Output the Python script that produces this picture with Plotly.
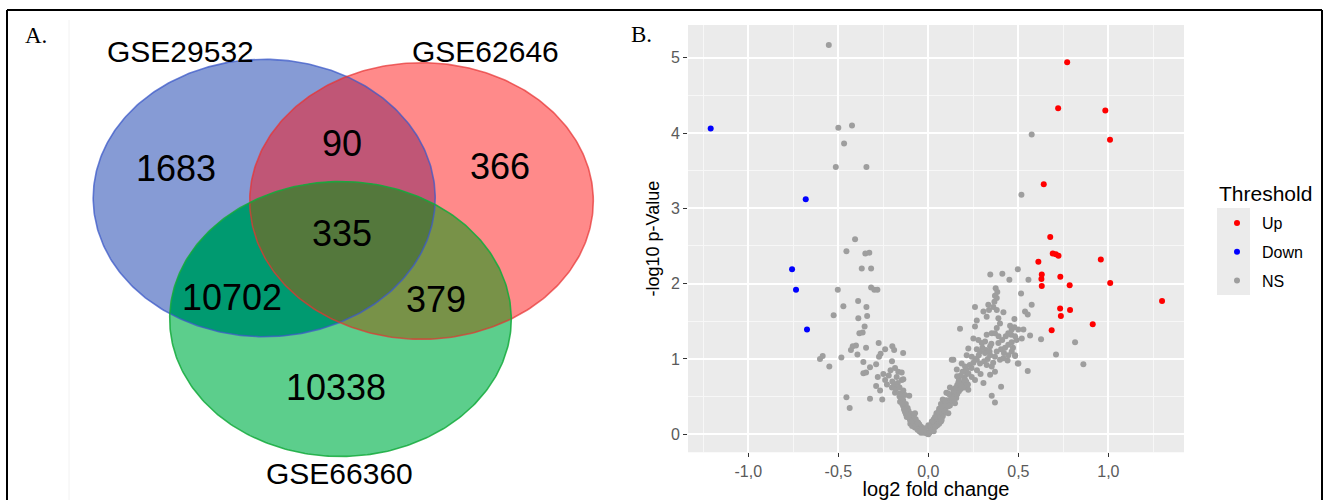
import plotly.graph_objects as go
import math

W, H = 1326, 500

# ---------------- data ----------------
venn_sets = ["GSE29532", "GSE62646", "GSE66360"]
venn_regions = ["A", "B", "C", "AB", "AC", "BC", "ABC"]
venn_counts = [1683, 366, 10338, 90, 10702, 379, 335]

up_points = [
    (0.771, 4.94), (0.721, 4.33), (0.983, 4.30), (1.009, 3.91), (0.641, 3.32),
    (0.677, 2.62), (0.691, 2.40), (0.708, 2.39), (0.723, 2.37), (0.611, 2.29),
    (0.958, 2.32), (0.630, 2.12), (0.628, 2.06), (0.630, 1.97), (0.733, 2.09),
    (0.785, 1.98), (1.010, 2.01), (1.298, 1.77), (0.732, 1.67), (0.787, 1.65),
    (0.736, 1.57), (0.913, 1.46), (0.685, 1.38),
]
down_points = [
    (-1.209, 4.06), (-0.681, 3.12), (-0.757, 2.19), (-0.735, 1.92), (-0.674, 1.39),
]
ns_points = [
    (-0.553, 5.17), (-0.500, 4.07), (-0.424, 4.10), (-0.468, 3.86), (-0.514, 3.55),
    (-0.344, 3.55), (-0.407, 2.59), (-0.455, 2.43), (-0.350, 2.40), (-0.328, 2.41),
    (-0.370, 2.20), (-0.318, 2.20), (-0.503, 1.92), (-0.318, 1.95), (-0.300, 1.92),
    (-0.283, 1.92), (-0.390, 1.77), (-0.472, 1.70), (-0.344, 1.69), (-0.526, 1.58),
    (-0.389, 1.54), (-0.340, 1.57), (-0.354, 1.43), (-0.383, 1.34), (-0.365, 1.35),
    (-0.420, 1.17), (-0.402, 1.18), (-0.430, 1.12), (-0.346, 1.15), (-0.394, 1.06),
    (-0.276, 1.21), (-0.240, 1.13), (-0.265, 1.07), (-0.274, 1.03), (-0.200, 1.17),
    (-0.190, 1.12), (-0.140, 1.08), (-0.587, 1.04), (-0.602, 1.00), (-0.483, 1.02),
    (-0.550, 0.90), (-0.361, 0.96), (-0.324, 0.89), (-0.290, 0.93), (-0.202, 0.97),
    (-0.185, 0.88), (-0.167, 0.83), (-0.148, 0.82), (-0.176, 0.76), (-0.148, 0.72),
    (-0.139, 0.73), (-0.361, 0.81), (-0.346, 0.82), (-0.281, 0.76), (-0.290, 0.64),
    (-0.268, 0.58), (-0.202, 0.62), (-0.185, 0.55), (-0.157, 0.54), (-0.139, 0.58),
    (-0.130, 0.52), (-0.106, 0.51), (-0.455, 0.49), (-0.437, 0.35), (-0.324, 0.47),
    (-0.256, 0.46),
    (-0.157, 0.43), (-0.139, 0.37), (-0.130, 0.30), (-0.120, 0.23), (-0.102, 0.19),
    (-0.083, 0.17), (-0.064, 0.12), (-0.046, 0.08), (-0.028, 0.05), (-0.009, 0.01),
    (0.009, 0.03), (0.028, 0.08), (0.046, 0.15), (0.056, 0.19),
    (-0.150, 0.47), (-0.140, 0.45), (-0.125, 0.40), (-0.115, 0.35), (-0.110, 0.31),
    (-0.095, 0.27), (-0.090, 0.22), (-0.080, 0.25), (-0.070, 0.20), (-0.060, 0.16),
    (-0.050, 0.13), (-0.040, 0.10), (-0.035, 0.07), (-0.020, 0.04), (-0.015, 0.03),
    (0.000, 0.00), (0.005, 0.02), (0.015, 0.05), (0.020, 0.06), (0.030, 0.04),
    (-0.200, 0.70), (-0.190, 0.65), (-0.180, 0.60), (-0.170, 0.68), (-0.160, 0.62),
    (-0.160, 0.50), (-0.145, 0.40), (-0.135, 0.33), (-0.125, 0.27), (-0.110, 0.24),
    (-0.100, 0.14), (-0.090, 0.11), (-0.075, 0.09), (-0.060, 0.06), (-0.050, 0.04),
    (-0.040, 0.02), (-0.025, 0.02), (-0.220, 0.78), (-0.210, 0.85), (-0.230, 0.66),
    (-0.240, 0.72), (-0.250, 0.80),
    (0.040, 0.10), (0.050, 0.12), (0.060, 0.14), (0.065, 0.22), (0.070, 0.17),
    (0.080, 0.24), (0.085, 0.28), (0.090, 0.33), (0.095, 0.30), (0.100, 0.36),
    (0.105, 0.40), (0.115, 0.43), (0.120, 0.38), (0.125, 0.46), (0.130, 0.52),
    (0.135, 0.44), (0.140, 0.50), (0.150, 0.55), (0.155, 0.48), (0.160, 0.53),
    (0.165, 0.60), (0.170, 0.57), (0.175, 0.66), (0.180, 0.60), (0.190, 0.68),
    (0.195, 0.64), (0.200, 0.75), (0.210, 0.70), (0.215, 0.80), (0.220, 0.66),
    (0.050, 0.25), (0.060, 0.28), (0.080, 0.32), (0.090, 0.40), (0.100, 0.45),
    (0.120, 0.52), (0.140, 0.58), (0.160, 0.65), (0.170, 0.72), (0.180, 0.78),
    (0.190, 0.83), (0.200, 0.62), (0.210, 0.86), (0.230, 0.92), (0.240, 0.88),
    (0.250, 0.95), (0.260, 1.00), (0.270, 0.85), (0.280, 1.05), (0.290, 0.80),
    (0.300, 1.15), (0.310, 0.97), (0.320, 1.12), (0.330, 1.00), (0.340, 1.10),
    (0.350, 1.20), (0.360, 0.95), (0.380, 1.10), (0.390, 1.30), (0.410, 1.25),
    (0.420, 1.08), (0.430, 1.30), (0.440, 0.98), (0.460, 1.32), (0.470, 1.15),
    (0.490, 1.25), (0.160, 0.77), (0.120, 0.62), (0.100, 0.55), (0.080, 0.46),
    (0.070, 0.40), (0.060, 0.34), (0.045, 0.28), (0.030, 0.20), (0.020, 0.13),
    (0.010, 0.09),
    (0.497, 2.19), (0.344, 2.12), (0.411, 2.13), (0.450, 2.05), (0.556, 2.05),
    (0.374, 1.94), (0.383, 1.89), (0.370, 1.84), (0.380, 1.81), (0.367, 1.76),
    (0.515, 1.87), (0.259, 1.69), (0.306, 1.63), (0.333, 1.72), (0.337, 1.65),
    (0.361, 1.69), (0.324, 1.56), (0.380, 1.65), (0.417, 1.62), (0.389, 1.54),
    (0.574, 1.72), (0.537, 1.63), (0.552, 1.59), (0.478, 1.53), (0.269, 1.51),
    (0.259, 1.43), (0.176, 1.40), (0.398, 1.47), (0.380, 1.41), (0.352, 1.34),
    (0.324, 1.32), (0.370, 1.34), (0.454, 1.44), (0.463, 1.39), (0.478, 1.42),
    (0.500, 1.39), (0.528, 1.39), (0.444, 1.34), (0.482, 1.30), (0.519, 1.27),
    (0.565, 1.31), (0.626, 1.26), (0.815, 1.22), (0.709, 1.06), (0.861, 0.93),
    (0.552, 0.84), (0.574, 3.98), (0.517, 3.18),
    (0.250, 1.27), (0.278, 1.25), (0.297, 1.21), (0.315, 1.23), (0.343, 1.17),
    (0.389, 1.21), (0.404, 1.13), (0.426, 1.15), (0.444, 1.19), (0.463, 1.22),
    (0.269, 1.13), (0.287, 1.10), (0.315, 1.08), (0.343, 1.05), (0.370, 1.03),
    (0.398, 0.99), (0.417, 1.01), (0.444, 1.05), (0.463, 1.10), (0.482, 1.05),
    (0.500, 0.94), (0.222, 1.14), (0.213, 1.05), (0.241, 1.03), (0.269, 0.99),
    (0.287, 0.94), (0.324, 0.92), (0.352, 0.90), (0.370, 0.83), (0.343, 0.79),
    (0.306, 0.68), (0.404, 0.63), (0.352, 0.51), (0.370, 0.42), (0.139, 0.99),
    (0.158, 0.86), (0.185, 0.94), (0.204, 0.90), (0.222, 0.81), (0.241, 0.76),
    (0.259, 0.72), (0.204, 0.72), (0.167, 0.69), (0.185, 0.63), (0.148, 0.61),
    (0.222, 0.59), (0.111, 0.54), (0.130, 0.48), (0.093, 0.43), (0.074, 0.37),
    (0.111, 0.37), (0.056, 0.30), (0.037, 0.23), (0.019, 0.17), (0.000, 0.12),
    (-0.018, 0.08), (-0.037, 0.06), (-0.056, 0.15), (-0.074, 0.28), (0.148, 0.41),
    (0.111, 0.28), (0.074, 0.19), (0.037, 0.10), (0.130, 0.99), (0.497, 0.94),
    (0.482, 1.04),
]

x_tickvals = [-1.0, -0.5, 0.0, 0.5, 1.0]
x_ticktext = ["-1,0", "-0,5", "0,0", "0,5", "1,0"]
y_tickvals = [0, 1, 2, 3, 4, 5]
y_ticktext = ["0", "1", "2", "3", "4", "5"]
legend_title = "Threshold"
legend_labels = ["Up", "Down", "NS"]

# ---------------- venn geometry (pixel space) ----------------
ELL = {
    "A": (264.2, 198.0, 171.0, 138.7),
    "B": (421.5, 201.0, 171.8, 138.3),
    "C": (340.5, 319.0, 170.8, 137.5),
}
REGION_POS = {
    "A": (176, 168), "B": (500, 166), "C": (336, 387),
    "AB": (342, 143), "AC": (232, 297), "BC": (436, 299), "ABC": (342, 233),
}
SET_POS = [(180, 51), (485, 51), (339, 473)]
REGION_FILL = {
    "A": "rgb(134,155,213)", "B": "rgb(255,138,138)", "C": "rgb(92,206,140)",
    "AB": "rgb(192,86,118)", "AC": "rgb(0,154,112)", "BC": "rgb(120,146,72)",
    "ABC": "rgb(84,120,60)",
}
OUTLINE = {"A": "rgba(60,90,200,0.75)", "B": "rgba(230,50,50,0.7)", "C": "rgba(20,170,60,0.85)"}


def ellipse(cx, cy, rx, ry, n=360):
    return [(cx + rx * math.cos(2 * math.pi * i / n), cy + ry * math.sin(2 * math.pi * i / n)) for i in range(n)]


def clip(subject, clipper):
    area = 0.0
    for i in range(len(clipper)):
        x1, y1 = clipper[i - 1]
        x2, y2 = clipper[i]
        area += x1 * y2 - x2 * y1
    sg = 1 if area > 0 else -1

    def inside(p, a, b):
        return sg * ((b[0] - a[0]) * (p[1] - a[1]) - (b[1] - a[1]) * (p[0] - a[0])) >= 0

    def inter(s, e, a, b):
        x1, y1 = s; x2, y2 = e; x3, y3 = a; x4, y4 = b
        den = (x1 - x2) * (y3 - y4) - (y1 - y2) * (x3 - x4)
        t = ((x1 - x3) * (y3 - y4) - (y1 - y3) * (x3 - x4)) / den
        return (x1 + t * (x2 - x1), y1 + t * (y2 - y1))

    out = subject
    for i in range(len(clipper)):
        a, b = clipper[i - 1], clipper[i]
        inp, out = out, []
        if not inp:
            break
        s = inp[-1]
        for e in inp:
            if inside(e, a, b):
                if not inside(s, a, b):
                    out.append(inter(s, e, a, b))
                out.append(e)
            elif inside(s, a, b):
                out.append(inter(s, e, a, b))
            s = e
    return out


polys = {k: ellipse(*v) for k, v in ELL.items()}
polys["AB"] = clip(polys["A"], polys["B"])
polys["AC"] = clip(polys["A"], polys["C"])
polys["BC"] = clip(polys["B"], polys["C"])
polys["ABC"] = clip(polys["AB"], polys["C"])

fig = go.Figure()

for key in ["A", "B", "C", "AB", "AC", "BC", "ABC"]:
    pts = polys[key] + [polys[key][0]]
    fig.add_trace(go.Scatter(
        x=[p[0] for p in pts], y=[p[1] for p in pts], mode="lines", fill="toself",
        fillcolor=REGION_FILL[key], line=dict(width=0, color=REGION_FILL[key]),
        xaxis="x2", yaxis="y2", hoverinfo="skip", showlegend=False))

for key in ["A", "B", "C"]:
    pts = polys[key] + [polys[key][0]]
    fig.add_trace(go.Scatter(
        x=[p[0] for p in pts], y=[p[1] for p in pts], mode="lines",
        line=dict(width=1.6, color=OUTLINE[key]),
        xaxis="x2", yaxis="y2", hoverinfo="skip", showlegend=False))

SANS = "Liberation Sans, Arial"
SERIF = "Liberation Serif, Times New Roman"
annotations = []
for reg, cnt in zip(venn_regions, venn_counts):
    x, y = REGION_POS[reg]
    annotations.append(dict(x=x, y=y, xref="x2", yref="y2", text=str(cnt), showarrow=False,
                            xanchor="center", yanchor="middle",
                            font=dict(family=SANS, size=36, color="black")))
for name, (x, y) in zip(venn_sets, SET_POS):
    annotations.append(dict(x=x, y=y, xref="x2", yref="y2", text=name, showarrow=False,
                            xanchor="center", yanchor="middle",
                            font=dict(family=SANS, size=30, color="black")))
annotations.append(dict(x=36 / W, y=1 - 35 / H, xref="paper", yref="paper", text="A.", showarrow=False,
                        xanchor="center", yanchor="middle", font=dict(family=SERIF, size=23, color="black")))
annotations.append(dict(x=641 / W, y=1 - 34 / H, xref="paper", yref="paper", text="B.", showarrow=False,
                        xanchor="center", yanchor="middle", font=dict(family=SERIF, size=23, color="black")))
annotations.append(dict(x=1217 / W, y=1 - 193 / H, xref="paper", yref="paper", text=legend_title,
                        showarrow=False, xanchor="left", yanchor="middle",
                        font=dict(family=SANS, size=21, color="black")))

# ---------------- volcano ----------------
GREY = "#9e9e9e"
fig.add_trace(go.Scatter(
    x=[p[0] for p in ns_points], y=[p[1] for p in ns_points], mode="markers",
    marker=dict(size=6, color=GREY), name=legend_labels[2], legendgroup="ns", legendrank=3))
fig.add_trace(go.Scatter(
    x=[p[0] for p in up_points], y=[p[1] for p in up_points], mode="markers",
    marker=dict(size=6, color="#ff0000"), name=legend_labels[0], legendgroup="up", legendrank=1))
fig.add_trace(go.Scatter(
    x=[p[0] for p in down_points], y=[p[1] for p in down_points], mode="markers",
    marker=dict(size=6, color="#0000ff"), name=legend_labels[1], legendgroup="down", legendrank=2))

px_left, px_right, py_top, py_bot = 688, 1184, 25, 452.3

shapes = [
    dict(type="rect", xref="x domain", yref="y domain", x0=0, x1=1, y0=0, y1=1,
         fillcolor="#ebebeb", line=dict(width=0), layer="below"),
    dict(type="rect", xref="paper", yref="paper", x0=1217 / W, x1=1250 / W,
         y0=1 - 295 / H, y1=1 - 208 / H, fillcolor="#ebebeb", line=dict(width=0), layer="below"),
    dict(type="line", xref="paper", yref="paper", x0=69 / W, x1=69 / W, y0=0, y1=1 - 20 / H,
         line=dict(color="#f2f2f2", width=1)),
    dict(type="line", xref="paper", yref="paper", x0=7 / W, x1=7 / W, y0=0, y1=1 - 10 / H,
         line=dict(color="black", width=2)),
    dict(type="line", xref="paper", yref="paper", x0=7 / W, x1=1322 / W, y0=1 - 10 / H, y1=1 - 10 / H,
         line=dict(color="black", width=2)),
    dict(type="line", xref="paper", yref="paper", x0=1322 / W, x1=1322 / W, y0=0, y1=1 - 10 / H,
         line=dict(color="black", width=2)),
]

tickfont = dict(family=SANS, size=16, color="#5a5a5a")
fig.update_layout(
    width=W, height=H, margin=dict(l=0, r=0, t=0, b=0),
    paper_bgcolor="white", plot_bgcolor="rgba(0,0,0,0)",
    showlegend=True,
    xaxis=dict(domain=[px_left / W, px_right / W], range=[-1.335, 1.42], showline=False, zeroline=False,
               tickvals=x_tickvals, ticktext=x_ticktext, ticks="outside", ticklen=4, tickwidth=1.2,
               tickcolor="#333333", tickfont=tickfont, showgrid=True, gridcolor="white", gridwidth=1.6,
               minor=dict(dtick=0.25, tick0=0, showgrid=True, gridcolor="#f7f7f7", gridwidth=0.8),
               title=dict(text="log2 fold change", standoff=1,
                          font=dict(family=SANS, size=20, color="black"))),
    yaxis=dict(domain=[1 - py_bot / H, 1 - py_top / H], range=[-0.24, 5.435], showline=False, zeroline=False,
               tickvals=y_tickvals, ticktext=y_ticktext, ticks="outside", ticklen=4, tickwidth=1.2,
               tickcolor="#333333", tickfont=tickfont, showgrid=True, gridcolor="white", gridwidth=1.6,
               minor=dict(dtick=0.5, tick0=0, showgrid=True, gridcolor="#f7f7f7", gridwidth=0.8),
               title=dict(text="-log10 p-Value", standoff=6,
                          font=dict(family=SANS, size=18, color="black"))),
    xaxis2=dict(domain=[0, 620 / W], range=[0, 620], visible=False, fixedrange=True),
    yaxis2=dict(domain=[0, 1], range=[500, 0], visible=False, fixedrange=True),
    legend=dict(x=1212 / W, y=1 - 206 / H, xanchor="left", yanchor="top",
                bgcolor="rgba(0,0,0,0)", tracegroupgap=5, itemwidth=40,
                font=dict(family=SANS, size=16, color="black")),
    shapes=shapes,
    annotations=annotations,
)

fig.write_html("out.html")
